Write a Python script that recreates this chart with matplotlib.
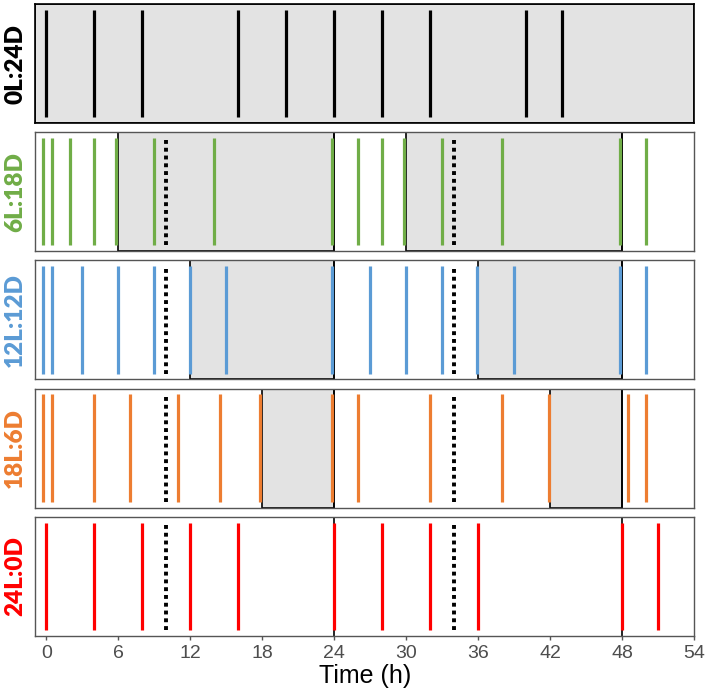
import matplotlib
matplotlib.use("Agg")
import matplotlib.pyplot as plt


LABELS = ["0L:24D", "6L:18D", "12L:12D", "18L:6D", "24L:0D"]
COLORS = ["#000000", "#70AD47", "#5B9BD5", "#ED7D31", "#FF0000"]

# event times (h) per photoperiod
EVENTS_0L = [0, 4, 8, 16, 20, 24, 28, 32, 40, 43]
EVENTS_6L = [-0.25, 0.5, 2, 4, 5.8, 9, 14, 23.8, 26, 28, 29.8, 33, 38, 47.8, 50]
EVENTS_12L = [-0.25, 0.5, 3, 6, 9, 12, 15, 23.8, 27, 30, 33, 35.85, 39, 47.8, 50]
EVENTS_18L = [-0.25, 0.5, 4, 7, 11, 14.5, 17.8, 23.8, 26, 32, 38, 41.85, 48.5, 50]
EVENTS_24L = [0, 4, 8, 12, 16, 24, 28, 32, 36, 48, 51]

# dark periods (start, end)
DARK_0L = [(-0.95, 54)]
DARK_6L = [(6, 24), (30, 48)]
DARK_12L = [(12, 24), (36, 48)]
DARK_18L = [(18, 24), (42, 48)]
DARK_24L = []

# dotted markers per panel
MARKERS_0L = []
MARKERS_OTHER = [10, 34]

EVENTS = [EVENTS_0L, EVENTS_6L, EVENTS_12L, EVENTS_18L, EVENTS_24L]
DARKS = [DARK_0L, DARK_6L, DARK_12L, DARK_18L, DARK_24L]
MARKERS = [MARKERS_0L] + [MARKERS_OTHER] * 4

XTICKS = list(range(0, 55, 6))


fig, axes = plt.subplots(5, 1, figsize=(7.06, 7.00), dpi=100, sharex=True)
fig.subplots_adjust(left=0.0496, right=0.9834, top=0.9939, bottom=0.0919,
                    hspace=0.076)

for i, ax in enumerate(axes):

    color = COLORS[i]

    for start, end in DARKS[i]:
        ax.axvspan(start, end, ymin=0, ymax=1, facecolor="#E3E3E3",
                   edgecolor="black", linewidth=1.2, zorder=1)

    if i > 0:
        for boundary in (24, 48):
            ax.axvline(boundary, color="black", linewidth=1.2, zorder=2)

    ax.vlines(EVENTS[i], 0.05, 0.95, colors=color, linewidth=2.3, zorder=3)

    for m in MARKERS[i]:
        ax.vlines(m, 0.05, 0.95, colors="black", linewidth=2.8,
                  linestyles=(0, (1.0, 1.0)), zorder=3)

    ax.set_ylim(0, 1)
    ax.set_xlim(-0.95, 54)
    ax.set_yticks([])

    for spine in ax.spines.values():
        spine.set_color("black" if i == 0 else "#555555")
        spine.set_linewidth(1.2 if i == 0 else 1.0)

    ax.text(-0.030, 0.5, LABELS[i], transform=ax.transAxes, rotation=90,
            ha="center", va="center", color=color, fontsize=17.5,
            fontweight="heavy", family=["Lato", "DejaVu Sans"])

    ax.tick_params(axis="x", length=3, color="#555555", width=1.0)

axes[-1].set_xticks(XTICKS)
axes[-1].set_xticklabels([str(t) for t in XTICKS], fontsize=14,
                         color="#4D4D4D", family="Liberation Sans")
axes[-1].tick_params(axis="x", pad=4)
axes[-1].set_xlabel("Time (h)", fontsize=18, color="black",
                    family="Liberation Sans", labelpad=1)

for ax in axes[:-1]:
    ax.tick_params(axis="x", length=0)

fig.savefig("out.png", dpi=100)
